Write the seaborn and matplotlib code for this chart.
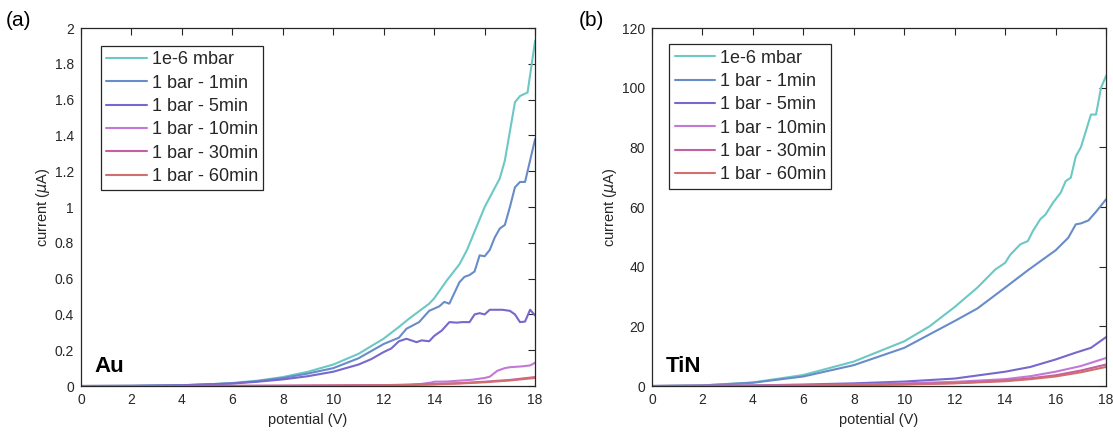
import pandas as pd
import numpy as np
import matplotlib.pyplot as plt
import seaborn as sns
from matplotlib.ticker import FuncFormatter

sns.set_style("white")
plt.rcParams['font.family'] = ['Liberation Sans', 'DejaVu Sans']

labels = ['1e-6 mbar', '1 bar - 1min', '1 bar - 5min',
          '1 bar - 10min', '1 bar - 30min', '1 bar - 60min']
colors = ['#6CC8C4', '#688CC8', '#7668CC', '#C478D6', '#C460A0', '#D26E6E']

# Au panel, current in uA
au_x_vac = [0, 2, 4, 5, 6, 7, 8, 9, 10, 11, 12, 12.6, 13, 13.8, 14, 14.5, 15, 15.3,
            16, 16.6, 16.8, 17.2, 17.4, 17.7, 18]
au_y_vac = [0, 0.001, 0.005, 0.009, 0.017, 0.03, 0.05, 0.08, 0.12, 0.18, 0.265, 0.33,
            0.376, 0.46, 0.49, 0.59, 0.68, 0.76, 1.0, 1.16, 1.26, 1.585, 1.62, 1.64, 1.93]
au_x_1 = [0, 2, 4, 6, 7, 8, 9, 10, 11, 12, 12.6, 12.9, 13.4, 13.8, 14.2, 14.4, 14.6, 15,
          15.2, 15.4, 15.6, 15.8, 16, 16.2, 16.4, 16.6, 16.8, 17, 17.2, 17.4, 17.6, 18]
au_y_1 = [0, 0.001, 0.004, 0.015, 0.027, 0.045, 0.07, 0.1, 0.155, 0.235, 0.27, 0.32,
          0.357, 0.42, 0.445, 0.47, 0.46, 0.58, 0.61, 0.62, 0.64, 0.73, 0.725, 0.76,
          0.83, 0.88, 0.9, 1.0, 1.11, 1.14, 1.14, 1.38]
au_x_5 = [0, 2, 4, 6, 7, 8, 9, 10, 11, 11.5, 12, 12.3, 12.6, 12.9, 13.3, 13.5, 13.8, 14,
          14.3, 14.6, 14.9, 15.1, 15.4, 15.6, 15.8, 16, 16.2, 16.5, 16.7, 17, 17.2,
          17.4, 17.6, 17.8, 18]
au_y_5 = [0, 0.001, 0.004, 0.014, 0.024, 0.037, 0.055, 0.08, 0.12, 0.15, 0.19, 0.21,
          0.25, 0.264, 0.245, 0.255, 0.25, 0.28, 0.31, 0.357, 0.354, 0.357, 0.357, 0.40,
          0.407, 0.40, 0.426, 0.426, 0.426, 0.42, 0.40, 0.357, 0.36, 0.426, 0.394]
au_x_10 = [0, 4, 8, 10, 12, 13, 13.5, 13.9, 14, 14.5, 15, 15.5, 16, 16.2, 16.5, 16.8,
           17, 17.5, 17.8, 18]
au_y_10 = [0, 0, 0.002, 0.003, 0.005, 0.007, 0.012, 0.02, 0.024, 0.025, 0.03, 0.035,
           0.045, 0.052, 0.085, 0.1, 0.105, 0.11, 0.115, 0.13]
au_x_long = [0, 4, 8, 10, 12, 13, 14, 15, 16, 17, 18]
au_y_30 = [0, 0, 0.001, 0.003, 0.005, 0.007, 0.011, 0.016, 0.024, 0.034, 0.05]
au_y_60 = [0, 0, 0.001, 0.002, 0.004, 0.006, 0.009, 0.014, 0.021, 0.031, 0.045]

# TiN panel, current in uA
tin_x_vac = [0, 2, 4, 6, 8, 10, 11, 12, 12.9, 13.6, 14, 14.2, 14.6, 14.9, 15.1, 15.4,
             15.6, 15.9, 16.2, 16.4, 16.6, 16.8, 17, 17.2, 17.4, 17.6, 17.8, 18]
tin_y_vac = [0, 0.2, 1.2, 3.7, 8.2, 15, 20, 26.5, 33, 39, 41.3, 44, 47.5, 48.6, 52, 56,
             57.5, 61.5, 64.8, 68.7, 69.8, 77, 80, 85.5, 91, 91, 100, 104]
tin_x_1 = [0, 2, 4, 6, 8, 10, 12, 12.9, 14, 14.9, 16, 16.5, 16.8, 17, 17.3, 17.6, 18]
tin_y_1 = [0, 0.2, 1.1, 3.2, 7.0, 12.8, 21.8, 26, 33, 38.8, 45.5, 49.7, 54.2, 54.5,
           55.5, 58.4, 62.6]
tin_x_5 = [0, 2, 4, 6, 8, 10, 12, 14, 15, 16, 16.8, 17.4, 18]
tin_y_5 = [0, 0.05, 0.2, 0.5, 0.9, 1.5, 2.5, 4.8, 6.4, 8.9, 11.2, 12.8, 16.4]
tin_x_long = [0, 4, 8, 10, 12, 14, 15, 16, 17, 18]
tin_y_10 = [0, 0.1, 0.5, 0.9, 1.4, 2.3, 3.3, 4.8, 6.7, 9.4]
tin_y_30 = [0, 0.05, 0.35, 0.6, 1.0, 1.8, 2.6, 3.6, 5.2, 7.2]
tin_y_60 = [0, 0.05, 0.3, 0.5, 0.9, 1.6, 2.3, 3.2, 4.6, 6.4]


def make_df(series):
    parts = []
    for lab, (xs, ys) in zip(labels, series):
        parts.append(pd.DataFrame({'potential': xs, 'current': ys, 'condition': lab}))
    return pd.concat(parts, ignore_index=True)


au_df = make_df([(au_x_vac, au_y_vac), (au_x_1, au_y_1), (au_x_5, au_y_5),
                 (au_x_10, au_y_10), (au_x_long, au_y_30), (au_x_long, au_y_60)])
tin_df = make_df([(tin_x_vac, tin_y_vac), (tin_x_1, tin_y_1), (tin_x_5, tin_y_5),
                  (tin_x_long, tin_y_10), (tin_x_long, tin_y_30), (tin_x_long, tin_y_60)])

fig = plt.figure(figsize=(11.13, 4.33), dpi=100)
ax1 = fig.add_axes([0.0728, 0.1085, 0.408, 0.8268])
ax2 = fig.add_axes([0.5858, 0.1085, 0.408, 0.8268])

dark = '#262626'
panels = [(ax1, au_df, 2, 0.2, 'Au', (0.044, 0.95)),
          (ax2, tin_df, 120, 20, 'TiN', (0.038, 0.955))]

for ax, df, ymax, ystep, name, leg_pos in panels:
    sns.lineplot(data=df, x='potential', y='current', hue='condition',
                 hue_order=labels, palette=colors, estimator=None, sort=False,
                 linewidth=1.5, ax=ax, legend=False)
    ax.set_xlim(0, 18)
    ax.set_ylim(0, ymax)
    ax.set_xticks(np.arange(0, 19, 2))
    ax.set_yticks(np.arange(0, ymax + ystep / 2, ystep))
    ax.yaxis.set_major_formatter(FuncFormatter(lambda v, p: f"{round(v, 6):g}"))
    ax.tick_params(direction='in', length=5, width=0.8, top=True, right=True,
                   colors=dark, labelsize=10, pad=5)
    for s in ax.spines.values():
        s.set_color(dark)
        s.set_linewidth(0.9)
    ax.set_xlabel('potential (V)', fontsize=10.5, color=dark)
    ax.set_ylabel(r'current ($\mu$A)', fontsize=10.5, color=dark, labelpad=2)
    ax.text(0.03, 0.025, name, transform=ax.transAxes, fontsize=16,
            fontweight='bold', color='black', ha='left', va='bottom')

    handles = [plt.Line2D([], [], color=c, lw=1.5) for c in colors]
    leg = ax.legend(handles, labels, loc='upper left', bbox_to_anchor=leg_pos,
                    borderaxespad=0, fontsize=13, frameon=True, fancybox=False,
                    framealpha=1, edgecolor=dark, handlelength=2.25,
                    labelspacing=0.35, handletextpad=0.25, borderpad=0.3)
    leg.get_frame().set_linewidth(0.9)

fig.text(0.005, 0.94, '(a)', fontsize=15, color='black')
fig.text(0.52, 0.94, '(b)', fontsize=15, color='black')

plt.savefig('out.png', dpi=100)
